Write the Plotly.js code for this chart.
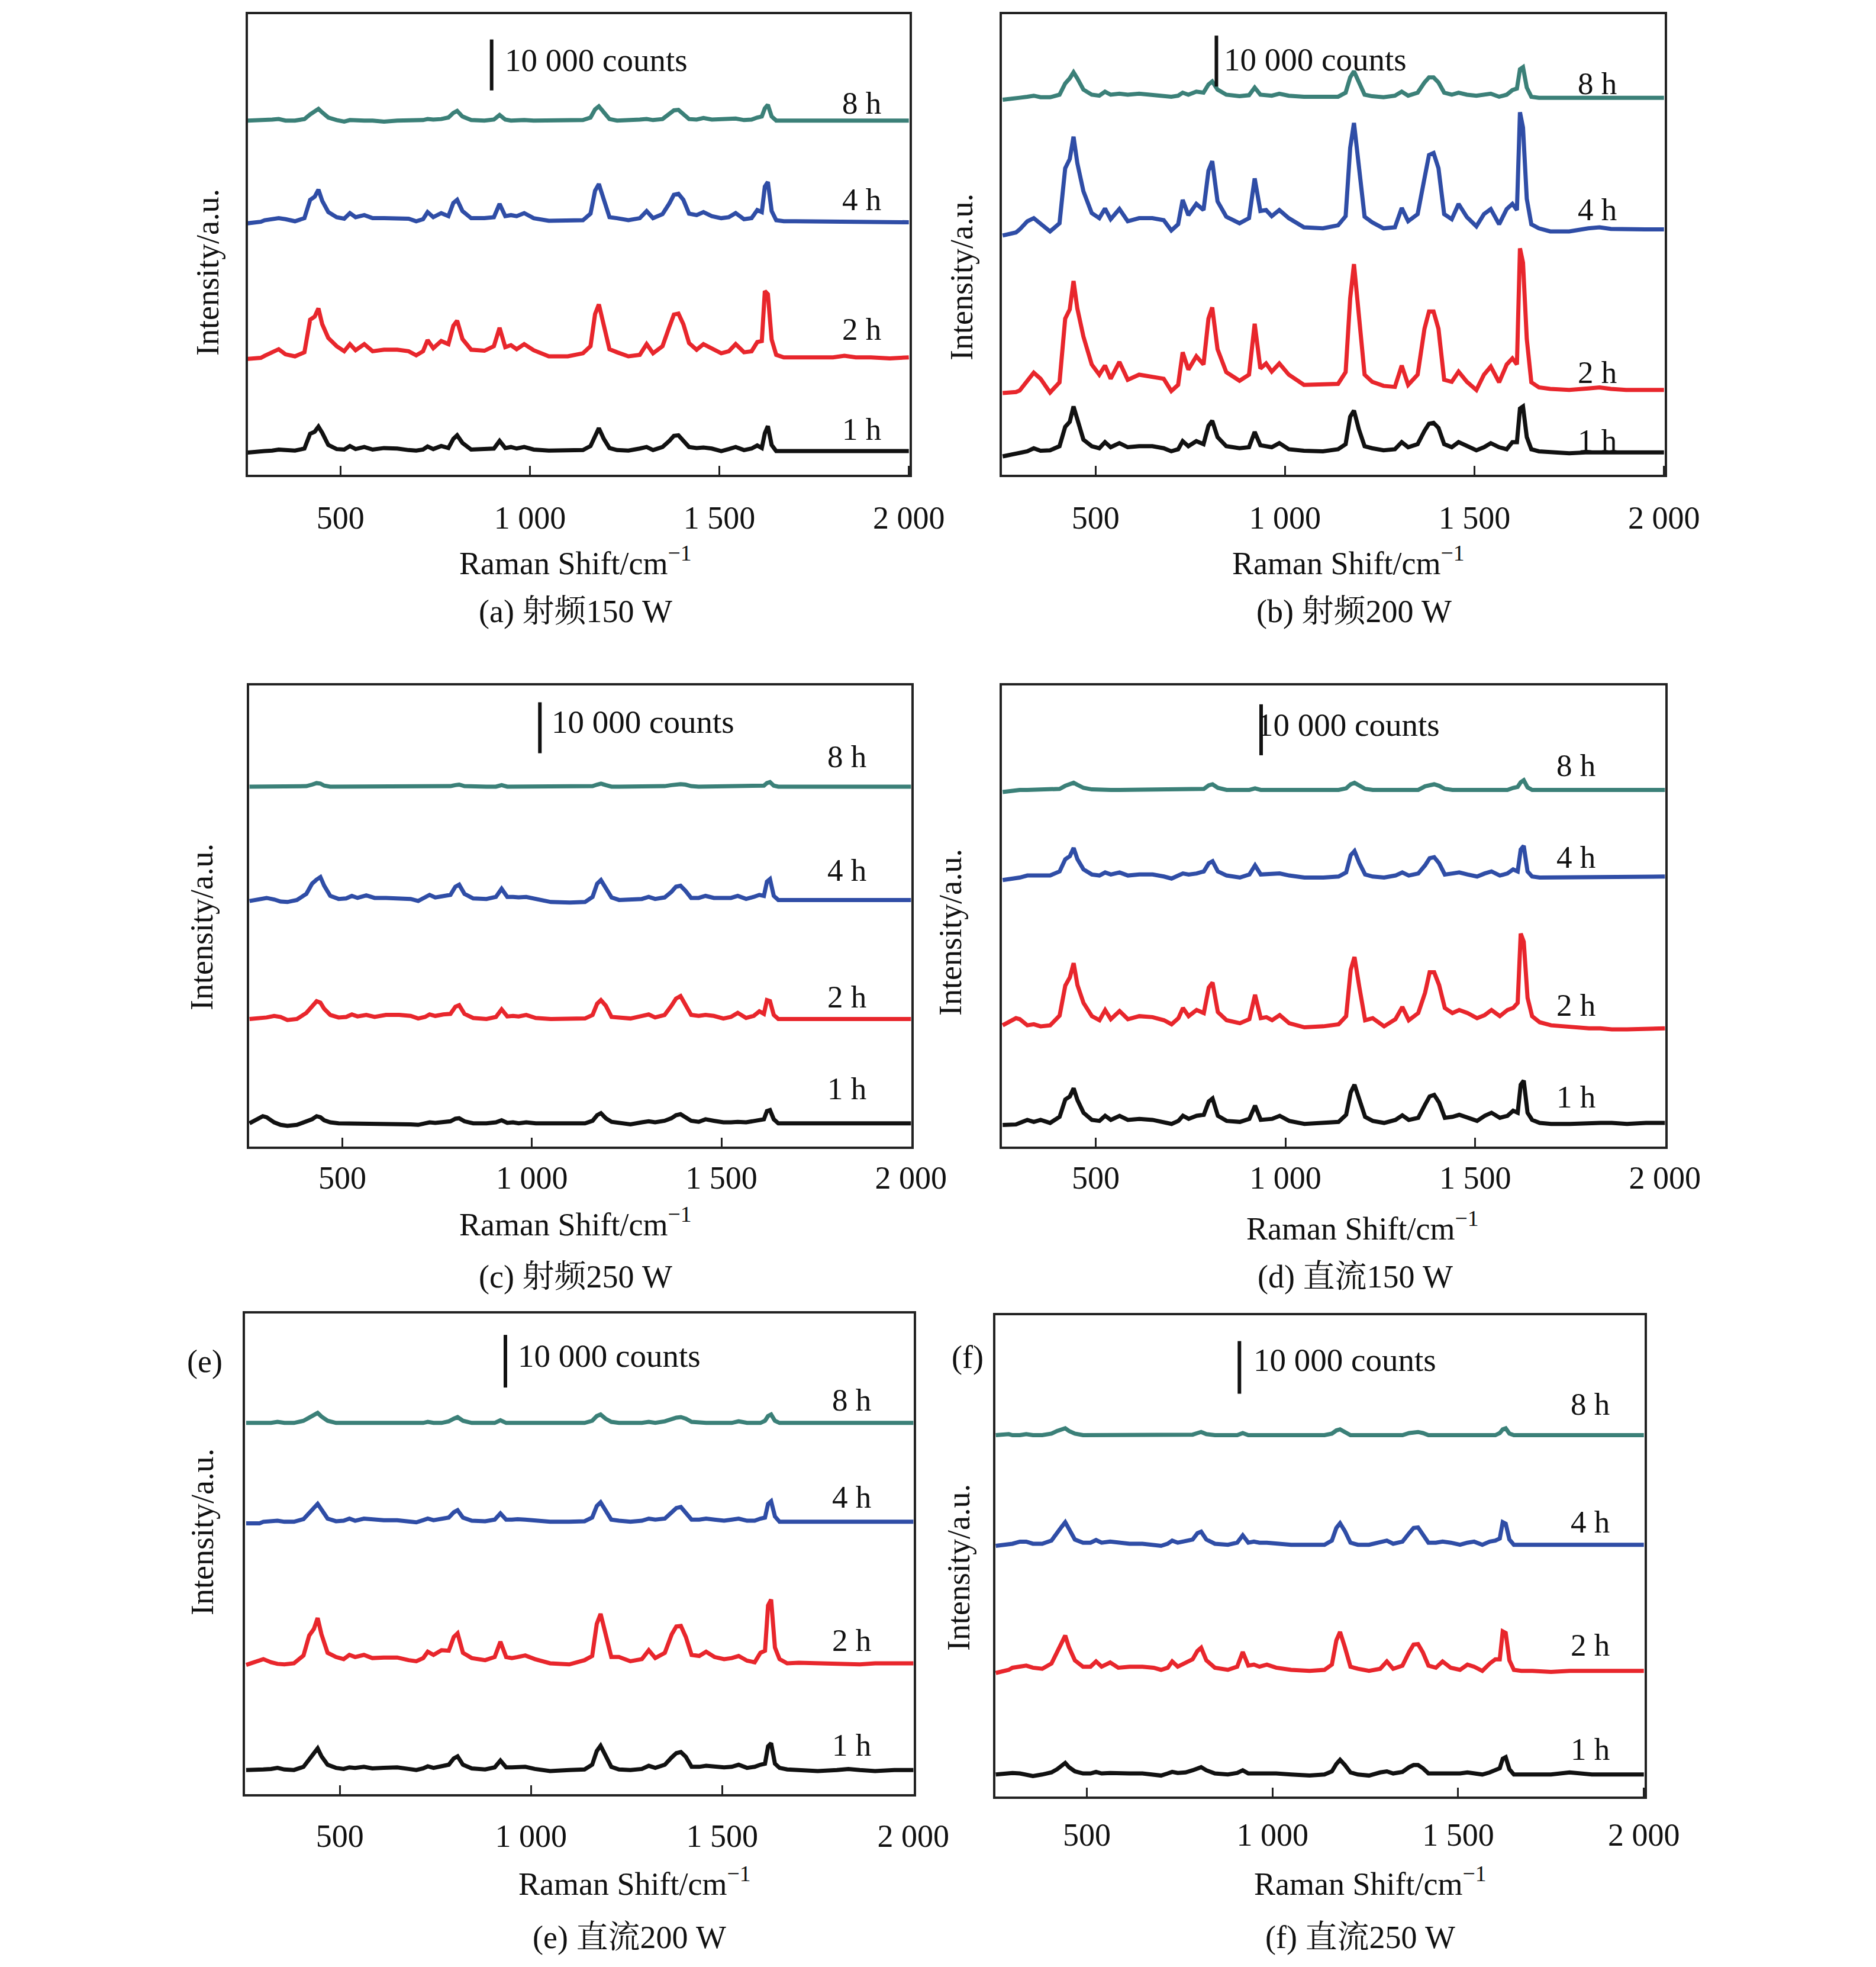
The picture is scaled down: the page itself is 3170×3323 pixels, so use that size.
<!DOCTYPE html>
<html>
<head>
<meta charset="utf-8">
<script src="https://cdn.plot.ly/plotly-3.0.1.min.js"></script>
<style>html,body{margin:0;padding:0;background:#fff;}#chart{width:3170px;height:3323px;}</style>
</head>
<body>
<div id="chart"></div>
<script>
// ---------------- DATA (intensity in thousand counts, above each spectrum's own baseline) ----------------
const shift = [255,290,300,320,337,355,380,405,420,432,
 442,452,468,490,510,525,540,563,585,615,
 650,680,700,718,730,745,766,785,798,808,
 822,845,880,905,920,935,950,965,985,1010,
 1050,1100,1140,1160,1172,1182,1195,1210,1230,1260,
 1290,1308,1325,1350,1368,1380,1392,1405,1420,1440,
 1458,1480,1505,1525,1543,1565,1585,1600,1612,1620,
 1628,1638,1650,1670,1700,1750,1800,1830,1860,1900,
 1950,2000];

const seriesNames = ['1 h','2 h','4 h','8 h'];
const tickValues = [500,1000,1500,2000];
const tickLabels = ['500','1 000','1 500','2 000'];
const captions = ['(a) 射频150 W','(b) 射频200 W','(c) 射频250 W','(d) 直流150 W','(e) 直流200 W','(f) 直流250 W'];

// (a) RF 150 W
const a1h = [-0.3,-0.2,0,0.1,0.3,0.2,0.1,0.5,3.4,3.8, 4.8,3.6,1.2,0.4,0.3,1.0,0.4,0.8,0.3,0.6, 0.5,0.2,0.1,0.3,0.9,0.4,1.0,0.6,2.4,3.1, 1.6,0.3,0.3,0.5,2.0,0.6,0.8,0.5,0.8,0.3, 0.1,0.1,0.2,1.0,3.2,4.5,2.4,0.6,0.2,0.1, 0.5,0.8,0.2,0.8,2.0,3.0,3.1,2.0,0.8,0.6, 0.7,0.5,0.0,0.4,0.8,0.2,0.5,1.1,0.6,3.5, 4.9,1.2,0,0,0,0,0,0,0,0, 0,0];
const a2h = [-0.3,-0.1,0.3,1.0,1.6,0.6,0.2,1.0,7.4,8.0, 9.6,6.5,3.8,2.2,1.2,2.6,1.4,2.6,1.2,1.5, 1.5,1.2,0.4,1.2,3.4,1.8,3.2,2.6,6.2,7.2, 3.6,1.5,1.3,2.2,5.8,2.0,2.4,1.6,2.6,1.4, 0.2,0.2,0.8,2.2,8.5,10.4,6.5,1.6,1.0,0.2, 0.5,2.6,0.8,2.2,6.0,8.4,8.6,6.5,2.8,1.5, 2.6,1.8,0.8,1.2,2.6,1.0,1.2,3.0,3.2,13.0, 12.4,3.5,0.5,0,0,0,0,0.3,0,0, -0.2,0];
const a4h = [-0.4,-0.1,0.2,0.5,0.6,0.4,0,0.6,4.2,4.8, 6.2,4.0,1.8,0.8,0.5,1.6,0.8,1.2,0.6,0.6, 0.6,0.5,0,0.4,1.8,0.8,1.6,1.0,3.6,4.2, 2.0,0.6,0.6,0.8,3.4,1.0,1.2,1.0,1.6,0.6, 0.1,0.1,0.2,1.5,6.0,7.3,4.5,0.8,0.6,0.2, 0.6,2.0,0.6,1.4,3.5,5.2,5.4,4.2,1.5,1.2, 1.8,1.0,0.6,0.8,1.6,0.4,0.6,2.2,1.8,6.8, 7.7,2.0,0.2,0,0,0,-0.2,0,0,0, 0,-0.2];
const a8h = [0,0,0,0.2,0.3,0,0,0.3,1.2,1.8, 2.3,1.6,0.6,0.1,-0.2,0.1,0,0,0,-0.2, 0,0,0,0.1,0.3,0.2,0.3,0.6,1.5,1.9, 0.8,0.1,0,0.2,1.1,0.2,0,0.1,0.1,0, 0,-0.1,0.1,0.6,2.2,2.8,1.5,0.3,0,0, 0.2,0.3,0.1,0.3,1.2,2.0,2.1,1.2,0.3,0.2, 0.5,0.2,0.2,0.2,0.4,0.1,0.2,0.6,0.8,2.4, 3.1,0.8,0,0,0,0,0,0,0,0, 0,0];
const aBaselines = [4.64, 23.04, 49.76, 69.52];

// (b) RF 200 W
const b1h = [-0.8,-0.3,-0.1,0.2,0.8,0.3,0.4,1.2,5.0,6.0, 9.0,6.5,2.5,1.2,0.8,2.0,1.0,1.8,1.0,1.2, 1.2,0.8,0.2,0.6,2.2,1.2,2.2,1.6,5.2,6.2, 3.0,1.2,0.8,1.0,4.0,1.4,1.2,1.0,1.8,0.6, 0.3,0.2,0.6,1.6,7.0,8.2,4.5,1.2,0.8,0.4, 0.6,2.0,1.0,1.6,4.2,5.6,5.8,4.8,1.6,1.0, 2.0,1.2,0.4,1.0,1.8,1.0,0.6,2.0,2.0,8.6, 9.0,3.0,0.6,0.2,0,-0.2,0,0,0,0, 0,0];
const b2h = [-0.6,-0.4,-0.1,1.8,3.4,2.2,-0.5,1.5,14.0,15.8, 21.4,16.0,10.5,5.0,3.0,4.8,2.2,5.5,2.0,3.0, 2.6,2.2,-0.2,1.0,7.4,4.0,6.6,5.0,14.0,16.2, 8.0,3.5,1.8,3.0,13.0,4.2,5.2,3.6,5.2,3.0, 1.0,1.0,1.2,3.5,18.0,24.7,15.0,3.0,1.6,0.8, 0.6,4.8,1.0,3.0,12.0,15.4,15.4,12.0,2.0,1.6, 3.6,1.6,0,3.0,4.6,1.5,5.0,6.2,5.0,27.8, 25.0,10.0,1.5,0.5,0.2,0,0.3,0.5,0.2,0, 0,0];
const b4h = [-1.2,-0.6,0,1.6,2.2,1.0,-0.4,1.2,12.0,13.8, 18.2,13.0,7.5,3.2,2.2,4.1,2.0,4.0,1.6,2.2, 2.2,1.8,-0.2,1.0,5.8,2.8,5.0,3.8,11.5,13.4, 5.5,2.5,1.2,2.2,10.0,3.6,3.8,2.6,3.8,2.2, 0.4,0.2,0.8,2.6,16.0,20.9,12.5,2.5,1.4,0.2, 0.4,4.2,1.6,3.0,10.0,14.6,15.0,12.0,3.0,2.0, 5.0,2.4,0.6,3.0,4.0,1.0,4.0,5.0,3.8,23.0, 20.0,6.0,1.0,0.2,-0.4,-0.4,0.2,0.4,0.1,0, 0,0];
const b8h = [-0.4,-0.2,0,0.2,0.4,0.1,0.1,0.6,2.8,3.8, 5.0,3.8,1.6,0.6,0.4,1.2,0.6,0.8,0.6,0.8, 0.6,0.4,0.2,0.4,1.0,0.6,1.2,1.0,2.6,3.2, 1.6,0.6,0.3,0.5,2.0,0.6,0.6,0.4,0.8,0.4, 0.2,0.1,0.2,1.0,4.0,5.2,3.0,0.6,0.3,0.1, 0.4,1.2,0.4,1.0,3.0,4.0,4.0,3.0,1.0,0.6, 1.0,0.6,0.4,0.6,0.8,0.2,0.6,1.5,1.8,5.6, 6.0,2.0,0.2,0,0,0,0,0,0,0, 0,0];
const bBaselines = [4.40, 16.64, 48.16, 74.00];

// (c) RF 250 W
const c1h = [0,1.4,1.2,0.2,-0.3,-0.5,-0.3,0.4,0.8,1.4, 1.2,0.6,0.2,0,0,0,0,0,0,0, 0,-0.2,-0.3,0,0.2,0.1,0.2,0.4,0.9,1.0, 0.4,0,0,0.2,0.6,0.1,0.2,0,0.2,0, 0,0,0,0.5,1.6,2.0,1.0,0.3,0.1,-0.2, 0.2,0.4,0.2,0.5,1.0,1.6,1.8,1.2,0.5,0.3, 0.8,0.5,0.2,0.2,0.3,0.2,0.4,0.6,0.8,2.4, 2.6,0.8,0,0,0,0,0,0,0,0, -0.2,0];
const c2h = [0,0.2,0.3,0.6,0.4,-0.2,0,1.2,2.5,3.5, 3.2,2.0,0.8,0.3,0.4,0.9,0.5,0.8,0.4,0.8, 0.8,0.6,0.1,0.4,0.9,0.6,0.9,1.0,2.4,2.7, 1.0,0.2,0,0.4,1.9,0.5,0.6,0.5,0.8,0.2, 0,0,0.1,0.8,3.0,3.7,2.6,0.4,0.2,0.1, 0.6,0.9,0.3,0.8,2.6,4.0,4.5,2.8,0.8,0.6, 0.8,0.6,0.1,0.4,1.2,0.2,0.6,1.5,1.0,3.7, 3.5,0.8,0,0,0,-0.2,0,0,0,-0.2, 0,0];
const c4h = [-0.2,0.2,0.4,0.1,-0.3,-0.4,0,1.2,3.2,4.0, 4.5,2.8,0.8,0.2,0.3,0.8,0.4,0.9,0.4,0.4, 0.4,0.2,-0.2,0.4,1.0,0.5,0.8,1.0,2.6,3.0, 1.2,0.3,0.2,0.6,2.2,0.6,0.6,0.5,0.6,0.2, -0.4,-0.5,-0.4,0.6,3.2,3.9,2.2,0.5,0,0, 0.2,0.6,0.2,0.5,1.6,2.6,2.8,1.8,0.4,0.4, 0.8,0.4,0.3,0.4,0.8,0.2,0.6,1.0,0.8,3.6, 4.1,0.8,0,0,0,0,0,0,0,0, 0,0];
const c8h = [0,0,0,0,0,0,0,0.1,0.4,0.7, 0.6,0.2,0,0,0,0,0,0,0,0, 0,0,0,0,0,0,0,0.1,0.3,0.4, 0.1,0,0,0,0.3,0,0,0,0,0, 0,0,0,0.1,0.4,0.6,0.3,0,0,0, 0,0,0,0.1,0.3,0.5,0.5,0.4,0.1,0, 0,0,0,0,0,0,0,0.1,0.2,0.7, 0.9,0.2,0,0,0,0,0,0,0,0, 0,0];
const cBaselines = [4.56, 25.04, 48.40, 70.64];

// (d) DC 150 W
const d1h = [-0.4,-0.3,0,0.6,0.2,0.6,0,1.2,4.6,5.2, 6.8,4.5,2.0,0.6,0.4,1.4,0.6,1.4,0.6,0.8, 0.6,0.2,-0.2,0.4,1.4,0.8,1.4,1.6,4.2,4.8, 1.4,0.4,0.2,0.8,3.4,0.6,0.8,0.8,1.4,0.4, -0.2,0,0.2,1.6,6.0,7.5,4.5,1.2,0.4,0, 0.6,1.5,0.6,1.0,3.6,5.2,5.5,4.0,1.0,1.2, 1.6,1.0,0.4,1.4,2.0,1.0,1.4,2.4,2.0,7.5, 8.3,2.0,0.6,0,-0.2,-0.2,0,0,0,-0.2, 0,0];
const d2h = [0.6,2.0,1.8,0.6,0.8,0.4,0.6,2.5,8.4,10.0, 12.8,8.5,5.0,2.4,1.6,3.6,1.8,3.4,1.8,2.4, 2.2,1.6,0.8,2.0,4.0,2.4,3.6,3.0,8.0,9.0, 3.2,1.6,1.0,1.8,6.6,2.0,2.2,1.6,2.6,1.0, 0.2,0.4,0.8,2.4,11.5,14.0,8.0,1.6,2.0,0.4, 1.8,4.2,1.6,3.0,7.0,11.0,11.0,8.5,4.0,3.0, 3.6,3.0,2.0,2.6,3.6,2.4,3.6,4.0,5.0,18.6, 17.0,6.0,2.4,1.2,0.6,0.2,0,0,-0.2,-0.2, 0,0];
const d4h = [-0.5,-0.2,0,0.4,0.4,0.2,0.4,1.2,3.6,4.2, 5.8,3.6,1.6,0.6,0.4,1.0,0.6,1.0,0.4,0.6, 0.6,0.2,-0.2,0.4,0.8,0.6,0.8,1.2,2.8,3.2, 1.2,0.4,0,0.6,2.4,0.6,0.6,0.6,0.8,0.4, 0,0,0.2,1.0,4.4,5.2,2.8,0.6,0.2,0, 0.4,1.0,0.4,0.8,2.4,3.8,4.0,2.8,0.6,0.8, 1.0,0.6,0.2,0.8,1.2,0.4,0.8,1.6,1.2,5.5, 6.2,1.2,0.2,0,0,0,0,0,0,0.2, 0,0.2];
const d8h = [-0.4,0,0,0,0,0,0,0.2,0.8,1.2, 1.4,1.0,0.4,0.1,0,0,0,0,0,0, 0,0,0,0,0,0,0,0.2,0.9,1.1, 0.4,0,0,0,0.3,0,0,0,0,0, 0,0,0,0.3,1.1,1.4,0.8,0.2,0,0, 0,0,0,0,0.7,1.0,1.1,0.8,0.2,0, 0,0,0,0,0,0,0,0.4,0.6,1.5, 1.9,0.5,0,0,0,0,0,0,0,0, 0,0];
const dBaselines = [4.64, 23.20, 52.80, 70.00];

// (e) DC 200 W
const e1h = [0,0,0.1,0.2,0.4,0.1,0,0.6,2.0,3.0, 4.1,2.6,1.0,0.4,0.2,0.5,0.4,0.6,0.3,0.4, 0.5,0.2,0,0.3,0.7,0.4,0.8,1.0,2.2,2.6, 1.0,0.3,0.1,0.5,1.8,0.5,0.5,0.5,0.6,0.2, -0.2,0,0.1,1.0,3.6,4.6,2.8,0.6,0.1,0, 0.2,0.8,0.4,1.0,2.4,3.2,3.4,2.5,0.6,0.6, 0.8,0.6,0.5,0.6,1.0,0.4,0.6,1.0,1.2,4.5, 5.1,1.2,0.4,0.1,0,-0.2,0,0.2,0,-0.2, 0,0];
const e2h = [-0.3,0.6,0.8,0.2,-0.1,-0.2,0,1.5,5.3,6.5, 8.6,5.5,2.0,1.2,0.8,1.6,1.2,1.6,1.0,1.1, 1.1,0.6,0.4,1.0,2.2,1.6,2.5,2.4,5.0,5.7, 2.0,1.0,0.6,1.2,4.1,1.2,1.0,1.2,1.5,0.8, 0,-0.2,0.6,1.4,7.5,9.4,5.5,1.2,1.2,0.4, 0.8,2.5,1.0,2.0,5.5,7.0,7.1,5.0,1.6,1.4, 2.2,1.2,0.8,1.0,1.4,0.5,0.2,2.0,2.4,11.0, 12.1,3.0,0.8,0,0.1,0,0,0,-0.2,0, 0,0];
const e4h = [-0.3,-0.3,0,0.1,0.2,0,0,0.5,1.8,2.6, 3.4,2.2,0.6,0.1,0.2,0.6,0.2,0.6,0.4,0.3, 0.3,0,-0.1,0.3,0.6,0.3,0.6,0.8,1.8,2.2, 0.8,0.2,0.1,0.4,1.6,0.4,0.4,0.5,0.4,0.2, 0,0,0.1,0.8,3.0,3.7,2.2,0.4,0.2,0, 0.2,0.6,0.4,0.6,1.8,2.6,2.8,1.8,0.4,0.4, 0.6,0.4,0.2,0.4,0.6,0.2,0.2,0.6,0.8,3.4, 3.9,1.0,0,0,0,0,0,0,0,0, 0,0];
const e8h = [0,-0.1,0,0,0.2,0,0,0.4,1.0,1.5, 1.9,1.2,0.4,0,-0.1,0,0,0,0,0, 0,0,0,0,0.2,0,0,0.3,0.8,1.1, 0.4,0,0,0,0.5,0,0,0,0,0, 0,0,0,0.4,1.3,1.6,0.8,0.2,0,0, 0,0.2,0,0.3,0.8,1.0,1.1,0.8,0.2,0, 0,0,0,0,0.3,0,0,0,0.4,1.3, 1.6,0.4,0,0,0,0,0,0,0,0, 0,0];
const eBaselines = [4.59, 24.85, 51.74, 70.52];

// (f) DC 250 W
const f1h = [0,0.2,0.3,0.2,0,-0.3,0,0.4,1.0,1.6, 2.2,1.4,0.6,0.2,0.2,0.5,0.2,0.3,0.2,0.2, 0.2,0,-0.2,0.2,0.5,0.3,0.4,0.8,1.2,1.4, 0.8,0.2,0,0.3,0.8,0.2,0.2,0.2,0.2,0.2, 0,-0.2,0,0.6,2.0,2.8,1.8,0.4,0,-0.2, 0.4,0.6,0.2,0.5,1.4,1.8,1.8,1.2,0.2,0.2, 0.2,0.2,0.2,0.4,0.2,0,0.4,0.8,1.2,3.0, 3.3,1.0,0,0,0,0,0.4,0.2,0,0, 0,0];
const f2h = [-0.4,0.2,0.6,0.8,1.0,0.6,0.4,1.4,3.4,5.0, 6.7,4.5,2.0,0.8,0.8,1.8,0.8,1.6,0.6,0.8, 0.8,0.6,0.2,0.6,1.8,0.8,1.6,2.2,3.8,4.4, 2.0,0.6,0.2,0.8,3.6,1.0,1.2,0.8,1.2,0.6, 0.2,0,0.2,1.2,5.8,7.4,4.5,0.8,0.4,0, 0.4,1.8,0.4,1.0,3.6,5.0,5.1,3.5,1.0,0.6, 1.8,0.6,0.2,1.2,0.8,0,1.4,2.2,2.2,7.5, 7.2,2.0,0.2,0,0,-0.2,0,0,0,0, 0,0];
const f4h = [-0.2,0,0.2,0.6,0.6,0.2,0.2,0.8,2.4,3.4, 4.3,3.0,1.0,0.4,0.4,0.9,0.4,0.6,0.4,0.2, 0.2,0,-0.2,0.2,0.8,0.4,0.8,1.0,2.2,2.5, 1.0,0.2,0,0.4,1.8,0.4,0.6,0.4,0.4,0.2, 0,0,0,0.8,3.2,4.1,2.6,0.4,0,0, 0.4,0.8,0.2,0.6,2.2,3.2,3.3,2.0,0.4,0.4, 0.6,0.4,0,0.4,0.6,0,0.6,0.8,1.2,4.3, 4.0,1.0,0,0,0,0,0,0,0,0, 0,0];
const f8h = [0,0.2,0,0,0.2,0,0,0.3,0.8,1.0, 1.3,0.8,0.3,0,0,0,0,0,0,0, 0,0,0,0,0,0,0,0.1,0.4,0.6, 0.2,0,0,0,0.4,0,0,0,0,0, 0,0,0,0.3,0.9,1.1,0.6,0,0,0, 0,0,0,0,0.4,0.6,0.6,0.4,0,0, 0,0,0,0,0,0,0,0,0.4,1.1, 1.3,0.3,0,0,0,0,0,0,0,0, 0,0];
const fBaselines = [4.18, 23.86, 47.81, 68.63];

const scaleBarValue = 10; // thousand counts

// ---------------- LAYOUT / STYLE ----------------
const W = 3170, H = 3323;
const FONT = "'Liberation Serif', 'Times New Roman', 'Noto Serif CJK SC', 'Noto Sans CJK SC', serif";
const lineColors = ['#111111', '#e8262c', '#2f4da6', '#3b8078'];
const FS = 54;

// pixel boxes and positions for each panel
const panels = [
  {series:[a1h,a2h,a4h,a8h], base:aBaselines, box:[419,24,1537,802], xr:[256,2002], yTop:90.4, stand:22,
   bar:{x:899, y0:75.44, tx:930, ty:81.4}, lab:{x:1876, y:[9.0,28.6,54.0,73.0]},
   xt:[972,947], cap:[972,1033], yt:[351,460]},
  {series:[b1h,b2h,b4h,b8h], base:bBaselines, box:[1693,24,2813,802], xr:[253,2002], yTop:90.4, stand:22,
   bar:{x:819, y0:76.2, tx:836, ty:81.5}, lab:{x:1824, y:[6.7,20.1,52.0,76.8]},
   xt:[2278,947], cap:[2288,1033], yt:[1625,468]},
  {series:[c1h,c2h,c4h,c8h], base:cBaselines, box:[421,1158,1540,1937], xr:[254,2001], yTop:90.5, stand:2,
   bar:{x:1021, y0:77.2, tx:1048, ty:83.4}, lab:{x:1831, y:[11.4,29.4,54.2,76.6]},
   xt:[972,2064], cap:[972,2157], yt:[341,1566]},
  {series:[d1h,d2h,d4h,d8h], base:dBaselines, box:[1693,1158,2814,1937], xr:[253,2001], yTop:90.5, stand:2,
   bar:{x:936, y0:76.8, tx:922, ty:82.8}, lab:{x:1765, y:[9.8,27.8,56.8,74.8]},
   xt:[2302,2071], cap:[2290,2157], yt:[1606,1575]},
  {series:[e1h,e2h,e4h,e8h], base:eBaselines, box:[414,2219,1544,3031], xr:[252,2001], yTop:91.3, stand:20,
   bar:{x:933, y0:77.24, tx:962, ty:83.3}, lab:{x:1838, y:[9.3,29.2,56.4,74.9]},
   xt:[1072,3178], cap:[1063,3273], yt:[342,2588], letter:['(e)',346,2300]},
  {series:[f1h,f2h,f4h,f8h], base:fBaselines, box:[1682,2222,2779,3035], xr:[254,2002], yTop:91.4, stand:14,
   bar:{x:911, y0:76.5, tx:945, ty:82.9}, lab:{x:1856, y:[9.0,28.8,52.2,74.5]},
   xt:[2315,3178], cap:[2298,3273], yt:[1620,2648], letter:['(f)',1635,2293]}
];

const px = v => v / W;
const py = v => 1 - v / H;

const traces = [];
const layout = {
  width: W, height: H,
  margin: {l:0, r:0, t:0, b:0},
  paper_bgcolor: '#ffffff', plot_bgcolor: '#ffffff',
  showlegend: false,
  font: {family: FONT, size: FS, color: '#111111'},
  shapes: [], annotations: []
};

panels.forEach((p, i) => {
  const n = i + 1;
  const xa = 'x' + (n === 1 ? '' : n), ya = 'y' + (n === 1 ? '' : n);
  const xk = 'xaxis' + (n === 1 ? '' : n), yk = 'yaxis' + (n === 1 ? '' : n);

  p.series.forEach((s, k) => {
    traces.push({
      type: 'scatter', mode: 'lines', name: seriesNames[k],
      x: shift, y: s.map(v => v + p.base[k]),
      xaxis: xa, yaxis: ya,
      line: {color: lineColors[k], width: 7, shape: 'linear'},
      hoverinfo: 'skip'
    });
  });

  layout[xk] = {
    domain: [px(p.box[0]), px(p.box[2])], anchor: ya,
    range: p.xr, showgrid: false, zeroline: false,
    showline: true, linecolor: '#222222', linewidth: 4, mirror: true,
    ticks: 'inside', ticklen: 15, tickwidth: 3, tickcolor: '#222222',
    tickmode: 'array', tickvals: tickValues, ticktext: tickLabels,
    tickfont: {family: FONT, size: FS, color: '#111111'},
    ticklabelstandoff: p.stand
  };
  layout[yk] = {
    domain: [py(p.box[3]), py(p.box[1])], anchor: xa,
    range: [0, p.yTop], showgrid: false, zeroline: false,
    showline: true, linecolor: '#222222', linewidth: 4, mirror: true,
    ticks: '', showticklabels: false
  };

  // scale bar
  layout.shapes.push({type: 'line', xref: xa, yref: ya, x0: p.bar.x, x1: p.bar.x,
    y0: p.bar.y0, y1: p.bar.y0 + scaleBarValue, line: {color: '#111111', width: 6}, layer: 'above'});
  layout.annotations.push({xref: xa, yref: ya, x: p.bar.tx, y: p.bar.ty, text: '10 000 counts',
    showarrow: false, xanchor: 'left', yanchor: 'middle', font: {family: FONT, size: 55, color: '#111111'}});

  // series labels
  seriesNames.forEach((nm, k) => {
    layout.annotations.push({xref: xa, yref: ya, x: p.lab.x, y: p.lab.y[k], text: nm,
      showarrow: false, xanchor: 'center', yanchor: 'middle', font: {family: FONT, size: 53, color: '#111111'}});
  });

  // axis titles & caption
  layout.annotations.push({xref: 'paper', yref: 'paper', x: px(p.xt[0]), y: py(p.xt[1]),
    text: 'Raman Shift/cm<sup>−1</sup>', showarrow: false, xanchor: 'center', yanchor: 'middle',
    font: {family: FONT, size: FS, color: '#111111'}});
  layout.annotations.push({xref: 'paper', yref: 'paper', x: px(p.yt[0]), y: py(p.yt[1]),
    text: 'Intensity/a.u.', textangle: -90, showarrow: false, xanchor: 'center', yanchor: 'middle',
    font: {family: FONT, size: FS, color: '#111111'}});
  layout.annotations.push({xref: 'paper', yref: 'paper', x: px(p.cap[0]), y: py(p.cap[1]),
    text: captions[i], showarrow: false, xanchor: 'center', yanchor: 'middle',
    font: {family: FONT, size: FS, color: '#111111'}});
  if (p.letter) {
    layout.annotations.push({xref: 'paper', yref: 'paper', x: px(p.letter[1]), y: py(p.letter[2]),
      text: p.letter[0], showarrow: false, xanchor: 'center', yanchor: 'middle',
      font: {family: FONT, size: FS, color: '#111111'}});
  }
});

Plotly.newPlot('chart', traces, layout, {staticPlot: true, displayModeBar: false});
</script>
</body>
</html>
